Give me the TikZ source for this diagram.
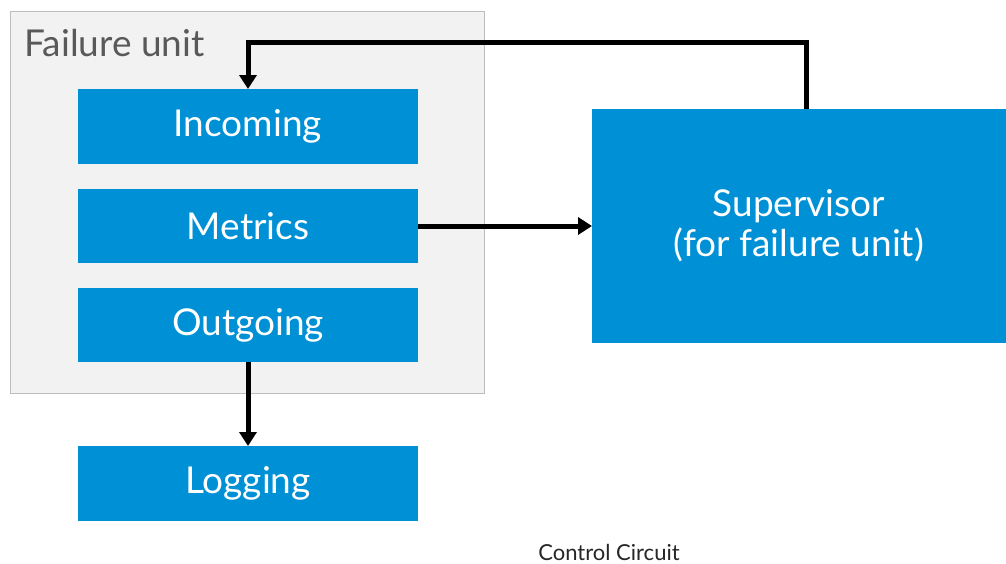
\documentclass[tikz,border=0pt]{standalone}
\usepackage{fontspec}
\setmainfont{Lato}
\usetikzlibrary{arrows.meta}
\definecolor{unitbg}{HTML}{F2F2F2}
\definecolor{unitline}{HTML}{BDBDBD}
\definecolor{boxblue}{HTML}{0090D5}
\definecolor{labelgray}{HTML}{595959}
\begin{document}
\begin{tikzpicture}[x=1pt,y=-1pt,
  bluebox/.style={fill=boxblue,draw=none,text=white,font=\fontsize{37}{40}\selectfont,align=center},
  link/.style={line width=5pt,-{Triangle[length=14pt,width=17pt]}}]
\useasboundingbox (0,0) rectangle (1006,563);
\fill[white] (0,0) rectangle (1006,563);
% failure unit container
\draw[fill=unitbg,draw=unitline,line width=1pt] (10,11) rectangle (484,393);
\node[anchor=west,text=labelgray,font=\fontsize{37}{40}\selectfont] (unitlabel) at (21,43) {Failure unit};
% boxes
\path[bluebox] (78,89) rectangle (418,164) node[midway] (incoming) {Incoming};
\path[bluebox] (78,189) rectangle (418,263) node[midway] (metrics) {Metrics};
\path[bluebox] (78,288) rectangle (418,362) node[midway] (outgoing) {Outgoing};
\path[bluebox] (78,446) rectangle (418,521) node[midway] (logging) {Logging};
\path[bluebox] (592,109) rectangle (1006,343) node[midway] (supervisor) {Supervisor\\(for failure unit)};
\coordinate (incTop) at (248,89);
\coordinate (outBot) at (248,362);
\coordinate (logTop) at (248,446);
\coordinate (metR) at (418,226);
\coordinate (supL) at (592,226);
\coordinate (supTop) at (806,109);
% connectors
\draw[link] (metR) -- (supL);
\draw[link] (outBot) -- (logTop);
\draw[link] (supTop) |- (248,42) -- (incTop);
% caption
\node[font=\fontsize{22}{26}\selectfont,text=black!85,inner sep=0pt,anchor=base] (caption) at (609,560) {Control Circuit};
\end{tikzpicture}
\end{document}
